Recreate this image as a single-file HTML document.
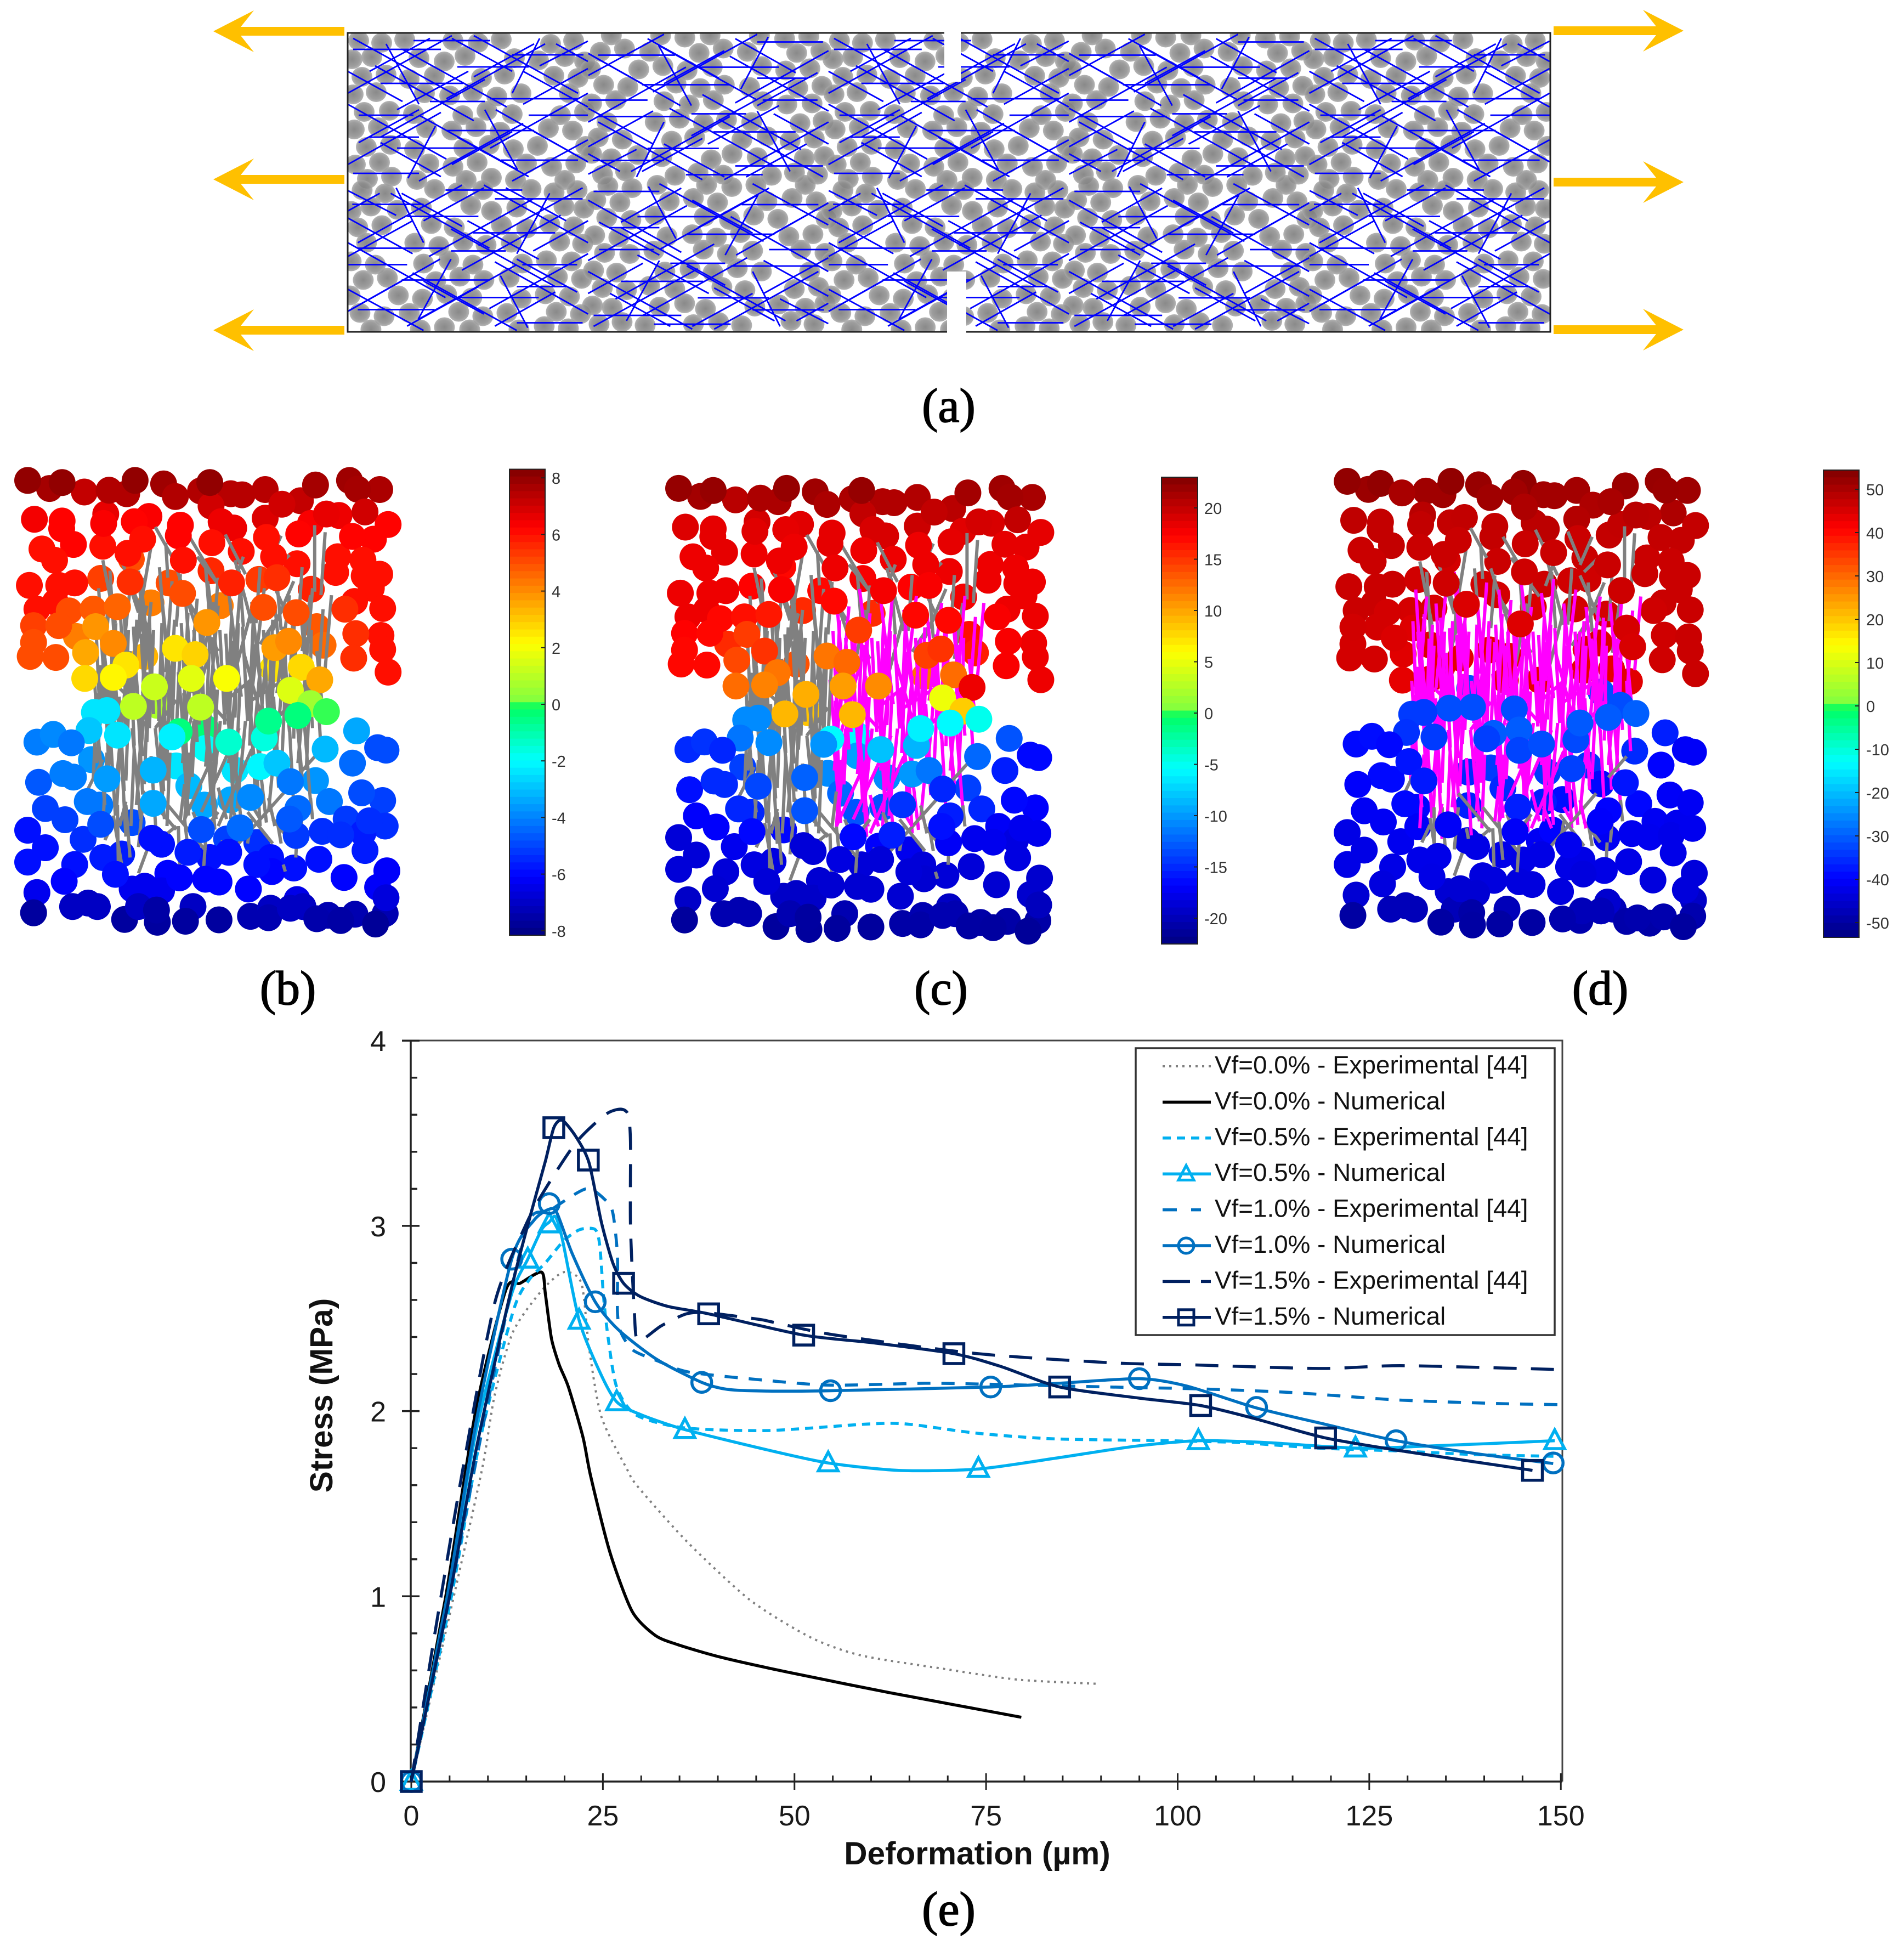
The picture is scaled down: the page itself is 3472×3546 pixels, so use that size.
<!DOCTYPE html>
<html lang="en">
<head>
<meta charset="utf-8">
<title>Fibre reinforced concrete fracture simulation</title>
<style>
html,body{margin:0;padding:0;background:#fff}
svg{display:block}
text{font-family:"Liberation Sans",Arial,sans-serif}
.panel-label{font-family:"Liberation Serif",serif;font-size:88px;fill:#000;text-anchor:middle;stroke:#000;stroke-width:1.6px}
.tick{font-size:52px;fill:#1a1a1a}
.cb{font-size:29px;fill:#333}
.leg{font-size:45.8px;fill:#111}
.title{font-size:58.5px;font-weight:bold;fill:#111;text-anchor:middle}
</style>
</head>
<body>
<svg id="page" width="3472" height="3546" viewBox="0 0 3472 3546">
  <defs>
    <radialGradient id="ballGrad" cx="50%" cy="50%" r="55%">
      <stop offset="0%" stop-color="#757575"/>
      <stop offset="65%" stop-color="#8c8c8c"/>
      <stop offset="100%" stop-color="#b0b0b0"/>
    </radialGradient>
    <clipPath id="boxClip"><rect x="635" y="61" width="2192" height="543"/></clipPath>
  </defs>
  <g id="panelA"></g>
  <g id="panelB"></g>
  <g id="panelC"></g>
  <g id="panelD"></g>
  <g id="chart"></g>
  <text class="panel-label" x="1730" y="769">(a)</text>
  <text class="panel-label" x="525" y="1831">(b)</text>
  <text class="panel-label" x="1716" y="1831">(c)</text>
  <text class="panel-label" x="2918" y="1831">(d)</text>
  <text class="panel-label" x="1730" y="3510">(e)</text>
</svg>
<script>
/* ---------- chart data (deformation in um, stress in MPa) ---------- */
const xTicks=[0,25,50,75,100,125,150];
const yTicks=[0,1,2,3,4];
const exp00X=[0,5,9.2,10.9,13.3,17,19.9,22.2,23.2,24.8,28.1,29.6,36.1,44.2,52.2,58.8,69.7,79.2,89.8];
const exp00Y=[0,.9,1.68,2.09,2.43,2.65,2.75,2.69,2.34,1.97,1.69,1.59,1.29,.98,.776,.68,.607,.55,.527];
const num00X=[0,4.5,8.4,12.3,14.2,17,17.5,18.3,19.3,20.5,22.4,23.4,25.9,28.8,31.8,34.7,40.5,50,62.4,79.6];
const num00Y=[0,1,2,2.65,2.69,2.75,2.63,2.39,2.25,2.13,1.86,1.65,1.24,.92,.79,.74,.67,.583,.48,.347];
const exp05X=[0,5,9,13.3,15.4,17.5,19.9,22,24,24.6,25.1,25.7,26.8,29.3,35.5,46.5,59.5,64.7,73.9,84,98.5,108,118.4,128.7,139,150];
const exp05Y=[0,.95,1.85,2.54,2.71,2.8,2.92,2.98,2.98,2.89,2.61,2.39,2.13,1.98,1.91,1.895,1.93,1.93,1.88,1.85,1.84,1.83,1.80,1.785,1.765,1.755];
const num05X=[0,4.7,8.5,13,15.2,17,18,18.8,19.7,21.9,24.5,26.8,30,35.7,46.5,54.4,63.6,73.9,84.1,94.4,102.7,111.6,123.2,132,149.2];
const num05Y=[0,1,1.9,2.62,2.82,2.98,3.02,3.05,2.93,2.49,2.22,2.05,1.98,1.90,1.79,1.72,1.68,1.687,1.746,1.81,1.84,1.83,1.80,1.81,1.84];
const mark05X=[0,15.2,18,21.9,26.8,35.7,54.4,74,102.7,123.2,149.2];
const mark05Y=[0,2.82,3.01,2.49,2.05,1.90,1.72,1.69,1.84,1.80,1.84];
const exp10X=[0,5,10,15,18,22.8,25.3,26.3,26.9,26.9,27.3,28.9,32.2,36.3,46.5,54.7,67,75.3,91,102.7,115,128.7,142.4,150];
const exp10Y=[0,1,2.05,2.99,3.08,3.2,3.14,3.07,2.84,2.54,2.43,2.33,2.27,2.21,2.165,2.14,2.15,2.145,2.13,2.12,2.10,2.06,2.04,2.035];
const num10X=[0,4.7,8.5,13.1,16,18,19,21,24,27,32,37.9,41.3,46.5,54.7,75.6,84.5,95,101.2,110.3,119.1,128.5,139,149];
const num10Y=[0,1,1.95,2.82,3.03,3.09,3.07,2.85,2.59,2.44,2.28,2.155,2.117,2.108,2.11,2.13,2.15,2.175,2.135,2.017,1.93,1.84,1.77,1.717];
const mark10X=[0,13.1,18,24,37.9,54.7,75.6,95,110.3,128.5,149];
const mark10Y=[0,2.82,3.12,2.59,2.155,2.11,2.13,2.175,2.02,1.84,1.72];
const exp15X=[0,3,6.7,10.9,15,17.5,21.5,25.3,27.3,28.3,28.6,28.6,29.1,29.6,32.6,35.9,38.8,45.4,47.2,55.4,73.9,91.7,101.4,118.4,128,135.6,149.2];
const exp15Y=[0,.78,1.68,2.585,3.01,3.2,3.45,3.6,3.63,3.6,3.45,3,2.54,2.38,2.46,2.525,2.53,2.495,2.48,2.41,2.31,2.26,2.25,2.23,2.245,2.24,2.225];
const num15X=[0,5,8.5,13,15.5,17.5,18.6,19.7,21.5,23.2,24.8,26.3,27.7,29.8,33.5,38.8,51.2,60,70.8,77,84.6,95,103,110,119.3,130,146.3];
const num15Y=[0,1,1.8,2.65,3.05,3.35,3.53,3.57,3.48,3.34,3.02,2.8,2.69,2.62,2.565,2.525,2.41,2.37,2.31,2.24,2.13,2.07,2.03,1.96,1.855,1.78,1.68];
const mark15X=[0,18.6,23.1,27.7,38.8,51.2,70.8,84.6,103,119.3,146.3];
const mark15Y=[0,3.53,3.355,2.69,2.525,2.41,2.31,2.13,2.03,1.855,1.68];
const legendLabels=["Vf=0.0% - Experimental [44]","Vf=0.0% - Numerical","Vf=0.5% - Experimental [44]","Vf=0.5% - Numerical","Vf=1.0% - Experimental [44]","Vf=1.0% - Numerical","Vf=1.5% - Experimental [44]","Vf=1.5% - Numerical"];

/* ---------- specimen data: particle x, y, normalised stress value in panel (b) units ---------- */
const particles=[
66,72,8,118,95,7.7,148,78,8,201,105,7.2,260,100,7.5,302,110,7.5,322,72,8,390,82,7.8,418,118,7.5,478,102,7.5,500,78,8,550,110,7.4,577,113,7.4,632,98,7.4,672,140,7,716,130,7.2,752,85,7.7,833,72,7.8,852,97,7.7,905,98,7.6,870,162,7,
82,183,6.4,148,188,6.2,175,255,6.2,147,210,6.2,252,168,6.6,247,195,6.3,245,260,6,320,190,6.2,355,175,6.3,340,240,6,430,200,6.2,425,230,6.2,503,145,7,527,190,6.5,557,208,6.5,505,250,6,632,180,6.8,635,235,6,575,275,6,712,225,6.2,740,195,6.3,778,168,6.6,808,172,6.5,652,290,6,708,310,6,925,198,6.2,890,240,6.2,840,232,6.2,805,290,6,865,300,6,800,335,6,905,340,6,868,345,6,885,380,6,912,438,6,845,418,6,908,515,6,912,555,6,925,620,6,
100,268,6,130,300,6,70,372,6,140,372,6,178,365,6,240,352,5.2,305,280,6,313,297,5,437,300,6,503,330,5.6,552,365,5.7,403,365,5,310,362,5.5,617,355,5.3,660,350,5.5,742,383,5.7,
88,440,6,132,420,6,165,445,5,222,440,4.8,280,433,4.6,360,422,4.2,435,395,5,525,430,4.2,493,478,3.8,628,435,5,706,450,5,755,490,4.8,822,440,5.5,848,510,5.5,
80,487,5.2,140,487,5,228,490,3.8,182,518,4.2,80,535,5,72,575,5,133,578,5,204,564,3.5,270,538,4,345,575,3.3,418,552,2.5,465,570,2.8,300,600,2.5,655,550,3.7,688,532,4,770,543,4.5,843,580,5.5,
202,638,2.7,270,635,2.2,456,638,1.6,540,638,2,650,610,2.5,718,606,2.7,762,642,3.5,
368,662,1.2,692,672,1.5,318,718,1,375,715,.7,478,720,1,740,710,.5,778,733,-.1,710,744,-.5,427,790,-.5,490,780,-.4,
225,735,-2.5,255,730,-2.5,212,787,-3,280,800,-2.5,410,805,-2.3,490,838,-2,545,820,-1.5,630,808,-1.7,640,760,-.7,775,840,-3.2,850,788,-3.5,
88,820,-4.2,127,798,-4,170,822,-4.3,900,836,-5,920,843,-5,840,880,-4.5,218,870,-3.8,365,900,-3.3,420,888,-2.5,620,890,-2.2,560,900,-2.5,660,880,-3,
92,935,-4.8,150,910,-4.2,175,920,-4.2,255,925,-3.7,450,945,-3.2,692,933,-4.3,752,930,-3.8,
108,1010,-5.2,155,1042,-5.2,208,990,-4.3,238,1000,-4.3,365,995,-3.5,487,1000,-3.5,597,978,-4,550,985,-3.5,710,1010,-4.5,785,990,-4.3,862,965,-5,912,987,-5.2,
66,1072,-6,108,1122,-6,66,1163,-6,198,1098,-5.5,240,1055,-5,315,1050,-5,362,1095,-6,385,1112,-6,480,1070,-5,540,1097,-5.2,572,1065,-4.5,612,1107,-5.5,706,1087,-5.3,768,1075,-5.5,690,1040,-4.8,825,1040,-5.3,880,1045,-5.5,918,1060,-5.5,812,1085,-5.5,865,1080,-5.8,870,1130,-5.8,
178,1170,-6,245,1150,-5.8,290,1140,-5.8,448,1135,-5.8,500,1150,-6,545,1135,-6,645,1150,-6,612,1170,-6,700,1180,-6,760,1155,-6,
153,1218,-6.2,275,1198,-6,400,1195,-6.2,428,1208,-6.2,648,1190,-6.2,490,1212,-6.2,522,1220,-6.2,592,1240,-6.2,820,1207,-6.2,922,1188,-6.3,900,1235,-6.3,
88,1250,-6.5,315,1240,-6.5,345,1232,-6.5,385,1245,-6.5,920,1265,-6.8,708,1270,-6.6,
80,1308,-7.8,173,1290,-7.2,210,1280,-7.2,232,1290,-7.2,330,1290,-7.2,297,1327,-7.8,373,1300,-7.7,375,1335,-7.8,442,1332,-7.8,460,1290,-7.2,522,1328,-7.8,597,1318,-7.5,640,1322,-7.5,645,1295,-7.2,692,1295,-7.2,722,1290,-7.2,755,1325,-7.6,782,1315,-7.5,812,1330,-7.7,846,1312,-7.5,895,1340,-7.9,918,1310,-7.5];

/* fibres: x1,y1,x2,y2,stage (0 intact throughout, 1 yields in c and d, 2 yields in d only) */
const fibres=[
370,205,410,290,0,450,230,520,370,0,530,210,585,340,0,610,215,640,300,0,670,230,640,310,0,750,200,750,390,0,775,220,765,400,0,690,285,650,330,0,245,300,275,480,0,290,300,330,450,0,360,260,340,400,0,395,250,400,350,0,470,290,540,400,0,580,290,555,370,0,440,400,520,560,0,
300,330,360,520,0,420,320,470,500,0,560,300,600,480,0,640,340,690,470,0,700,360,650,500,0,350,430,320,560,0,510,420,480,600,0,600,440,560,620,0,680,430,620,540,0,740,400,720,560,0,
262,330,272,520,0,340,350,330,510,0,380,320,392,500,0,430,340,420,490,0,490,320,500,470,0,520,350,510,500,0,570,330,580,490,0,620,320,610,480,0,660,360,670,500,0,720,320,712,470,0,
235,380,250,650,2,262,400,245,640,2,285,420,300,700,2,310,380,285,660,2,335,350,360,640,2,360,420,340,680,2,385,400,410,690,2,410,360,395,620,2,440,380,460,680,1,470,410,450,700,1,495,360,525,650,1,520,430,500,700,1,545,390,575,690,1,575,350,555,640,1,600,420,625,710,1,630,380,600,680,1,655,430,680,720,1,690,400,660,680,1,715,420,735,700,1,745,380,725,660,1,770,440,755,700,1,790,400,775,610,1,
225,640,240,900,2,250,620,230,880,2,272,600,290,890,2,300,640,280,900,2,322,590,340,860,2,350,620,330,900,2,372,640,395,910,2,400,600,380,870,2,425,620,445,900,1,455,600,435,880,1,480,650,500,920,1,510,610,490,890,1,535,640,555,900,1,565,620,545,880,1,590,650,610,930,1,620,610,600,880,1,645,640,665,900,1,675,620,655,890,1,700,650,720,920,1,730,610,710,880,1,755,640,765,840,1,
240,500,255,760,2,268,520,262,780,2,318,490,330,760,2,345,510,338,770,2,392,480,405,750,2,418,520,410,790,2,462,500,475,770,1,488,470,470,740,1,538,510,550,780,1,568,480,560,750,1,612,520,630,800,1,640,500,620,770,1,668,520,690,790,1,702,470,690,740,1,728,520,745,780,1,
230,760,250,1000,2,262,780,275,1030,2,290,760,278,1010,2,315,780,335,1040,2,342,760,325,1000,2,370,780,392,1040,2,398,760,385,1010,2,432,780,450,1030,1,462,760,445,1010,1,495,780,515,1040,1,525,760,505,1000,1,552,780,575,1050,1,585,760,565,1010,1,610,790,635,1050,1,660,770,640,1020,1,690,780,700,1000,1,725,760,740,990,1,
228,470,238,740,2,246,500,258,770,2,256,450,240,720,2,276,480,268,760,2,296,460,310,730,2,306,500,298,780,2,326,470,316,740,2,336,510,350,790,2,356,470,366,740,2,366,500,356,780,2,386,480,378,760,2,396,520,412,790,2,416,470,404,750,2,
232,680,222,930,2,252,700,262,960,2,268,660,258,920,2,284,690,296,960,2,308,670,300,930,2,328,700,340,970,2,352,680,344,940,2,378,690,390,960,2,404,670,396,930,2,255,850,245,1060,2,290,870,300,1090,2,320,840,312,1060,2,360,860,372,1080,2,405,850,398,1060,2,
432,480,444,750,1,448,450,438,730,1,476,490,488,760,1,502,460,492,740,1,524,500,536,770,1,552,460,542,740,1,578,490,590,760,1,604,460,594,740,1,628,500,640,770,1,650,470,640,740,1,676,490,688,760,1,698,460,688,740,1,722,480,732,740,1,742,500,738,720,1,
438,680,448,940,1,468,660,458,920,1,490,700,502,960,1,518,670,508,930,1,542,690,554,950,1,572,660,562,920,1,596,700,608,960,1,626,670,616,930,1,652,690,664,950,1,680,660,670,920,1,708,700,718,950,1,738,680,730,900,1,450,850,440,1050,1,500,860,512,1070,1,560,840,550,1040,1,610,860,620,1060,1,
205,965,245,870,0,565,1115,680,960,0,710,915,755,855,0,270,1030,290,1170,0,280,1000,282,1170,0,330,1195,350,1130,0,425,1060,428,1170,0,490,1100,485,1185,0,530,1100,530,1165,0,675,1170,680,1190,0,707,1100,705,1150,0,
300,1000,310,1150,0,340,1000,330,1120,0,440,1040,450,1150,0,600,1040,590,1110,0,660,1040,670,1110,0,720,1030,715,1100,0,
340,960,420,1070,0,400,1000,490,1130,0,460,1020,480,1080,0,480,1080,520,1020,0,590,1020,650,1110,0,650,1040,690,1100,0,740,980,745,1040,0,250,1100,270,1050,0,360,1060,365,1090,0,400,1080,420,1060,0,600,1000,620,1040,1,550,1000,570,1060,2,520,950,540,1040,1,640,980,655,1060,2,300,990,285,1060,2,440,940,430,1040,2,
330,330,345,560,2,250,580,265,760,2,455,540,470,820,1,505,520,515,800,1,555,530,545,800,1,605,540,595,830,1,655,540,645,810,1,705,540,700,810,1,755,560,770,740,1,
360,560,350,820,2,385,540,395,810,2,430,530,420,800,2,280,540,270,810,2,310,560,320,830,2,240,600,235,820,2,500,560,440,820,1,580,560,640,820,1,530,800,440,1040,1,570,780,480,1020,1,600,840,520,1060,1,
480,680,540,760,1,540,700,600,640,1,600,700,680,640,1,420,700,370,780,2,330,720,280,660,2,700,700,640,780,1];

/* panel (a) particle and fibre tile */
const ballTile=[20,14,62,18,104,12,192,14,238,18,280,12,370,20,412,14,8,48,44,44,130,46,176,52,214,42,304,46,348,50,396,44,432,52,26,80,70,76,112,84,158,78,244,82,286,76,376,78,420,82,10,112,52,108,140,110,186,114,228,108,272,116,316,110,404,110,30,144,76,142,120,148,210,150,254,142,300,148,388,150,432,144,12,176,56,172,144,174,190,178,234,172,278,180,366,174,410,178,34,208,78,204,122,212,212,210,258,204,302,212,346,206,434,206,14,240,58,236,148,238,192,244,236,236,326,238,372,244,416,238,36,266,80,262,126,268,216,268,262,264,306,268,396,268];
const fibreTile=[10,30,170,30,200,62,330,62,60,92,210,92,260,120,420,120,20,150,120,150,180,178,340,178,300,40,430,40,90,210,240,210,280,232,420,232,10,256,130,256,120,14,260,14,330,150,438,150,150,125,250,125,40,190,130,190,
0,110,190,5,60,190,250,85,180,120,360,20,260,210,438,110,0,240,170,145,130,270,320,165,300,270,438,195,40,70,150,10,230,80,340,20,20,200,130,140,190,240,300,180,320,130,438,65,350,60,438,15,90,140,220,70,
10,10,200,115,100,30,290,135,230,5,420,110,320,70,438,135,0,130,180,230,130,150,310,250,270,140,438,235,50,60,230,160,190,10,300,70,0,70,100,125,200,190,330,262,340,180,438,235,60,200,170,262,380,20,438,52,
70,20,130,130,250,140,310,250,350,10,300,110,160,170,110,265];

/* colour bars */
const cbTicksB=[8,6,4,2,0,-2,-4,-6,-8];
const cbTicksC=[20,15,10,5,0,-5,-10,-15,-20];
const cbTicksD=[50,40,30,20,10,0,-10,-20,-30,-40,-50];
const jetStops=[-1,-.75,-.5,-.25,-.02,0,.25,.5,.75,1];
const jetR=[0,0,0,0,0,128,255,255,255,128];
const jetG=[0,0,128,255,255,255,255,128,0,0];
const jetB=[128,255,255,255,96,64,0,0,0,0];
/* response of each load stage relative to panel (b) values */
const stageIn=[-8,-6,-5,-4,-3,-2,-1,-.01,0,1,2,3,4,5,6,8];
const stageC=[-22,-19,-17,-15,-12,-10,-7,-5,7,9,11,13,15,17,18,22];
const stageD=[-52,-44,-42,-40,-36,-34,-32,-31,42,43,44,44,45,46,47,53];

const root=document.getElementById('page');
const NS=root.namespaceURI;
function mk(parent,tag,attrs,txt){
  const e=document.createElementNS(NS,tag);
  for(const k in attrs)e.setAttribute(k,attrs[k]);
  if(txt!==undefined)e.textContent=txt;
  parent.appendChild(e);
  return e;
}
function jet(n){
  n=Math.max(-1,Math.min(1,n));
  let i=0;
  while(i<jetStops.length-2&&n>jetStops[i+1])i++;
  const t=(n-jetStops[i])/(jetStops[i+1]-jetStops[i]);
  const c=a=>Math.round(a[i]+(a[i+1]-a[i])*t);
  return 'rgb('+c(jetR)+','+c(jetG)+','+c(jetB)+')';
}
function lookup(v,xs,ys){
  if(v<=xs[0])return ys[0];
  for(let i=1;i<xs.length;i++){
    if(v<=xs[i])return ys[i-1]+(ys[i]-ys[i-1])*(v-xs[i-1])/(xs[i]-xs[i-1]);
  }
  return ys[ys.length-1];
}

/* ---------- panel (a) ---------- */
(function(){
  const g=document.getElementById('panelA');
  const clip=mk(g,'g',{'clip-path':'url(#boxClip)'});
  
  
  const tw=438.4,th=272.5,x0=634,y0=60;
  for(let col=0;col<5;col++)for(let row=0;row<2;row++){
    const flipX=(col+row)%2===1, flipY=col%2===1;
    const fx=v=>x0+col*tw+(flipX?tw-v:v);
    const fy=v=>y0+row*th+(flipY?th-v:v);
    for(let i=0;i<ballTile.length;i+=2){
      const el=mk(clip,'ellipse',{cx:fx(ballTile[i]),cy:fy(ballTile[i+1]),rx:19,ry:18,fill:'url(#ballGrad)','fill-opacity':.85});
      
      
    }
  }
  for(let col=0;col<5;col++)for(let row=0;row<2;row++){
    const flipX=(col+row)%2===1, flipY=col%2===1;
    const fx=v=>x0+col*tw+(flipX?tw-v:v);
    const fy=v=>y0+row*th+(flipY?th-v:v);
    for(let i=0;i<fibreTile.length;i+=4){
      const el=mk(clip,'line',{x1:fx(fibreTile[i]),y1:fy(fibreTile[i+1]),x2:fx(fibreTile[i+2]),y2:fy(fibreTile[i+3]),stroke:'#0000ff','stroke-width':2.8});
      
      
    }
  }
  const box=mk(g,'rect',{x:634,y:60,width:2193,height:545,fill:'none',stroke:'#222','stroke-width':3});
  
  
  const n1=mk(g,'rect',{x:1722,y:50,width:30,height:99,fill:'#fff'});
  
  
  const n2=mk(g,'rect',{x:1727,y:495,width:35,height:120,fill:'#fff'});
  
  
  const arrowsLeft=[57,327,602], arrowsRight=[56,332,601];
  arrowsLeft.forEach(y=>{
    const a=mk(g,'polygon',{points:[[628,y-8],[439,y-8],[463,y-38],[389,y],[463,y+38],[439,y+8],[628,y+8]].join(' '),fill:'#FFC000'});
    
    
  });
  arrowsRight.forEach(y=>{
    const a=mk(g,'polygon',{points:[[2833,y-8],[3020,y-8],[2996,y-38],[3070,y],[2996,y+38],[3020,y+8],[2833,y+8]].join(' '),fill:'#FFC000'});
    
    
  });
})();

/* ---------- panels (b), (c), (d) ---------- */
function drawPanel(id,fx,fy,valueOf,maxAbs,stage,cbx,cby0,cby1,cbw,ticks,tickYs,labelX){
  const g=document.getElementById(id);
  const drawBall=(i)=>{
    const v=valueOf(particles[i+2],particles[i],particles[i+1]);
    const el=mk(g,'circle',{cx:fx(particles[i]),cy:fy(particles[i+1]),r:24.5,fill:jet(v/maxAbs)});
    
    
  };
  const onTop=i=>{
    const py=particles[i+1];
    if(stage<2)return i%6===0||(py>430&&py<880&&i%9!==0);
    return (i%9===0&&(py<560||py>680))||(py>=680&&py<=830);
  };
  for(let i=0;i<particles.length;i+=3)if(!onTop(i))drawBall(i);
  for(let i=0;i<fibres.length;i+=5){
    const yields=fibres[i+4]>0&&fibres[i+4]<=stage;
    const el=mk(g,'line',{x1:fx(fibres[i]),y1:fy(fibres[i+1]),x2:fx(fibres[i+2]),y2:fy(fibres[i+3]),stroke:yields?'#ff00ff':'#808080','stroke-width':6});
    
    
  }
  for(let i=0;i<particles.length;i+=3)if(onTop(i))drawBall(i);
  const steps=64,h=(cby1-cby0)/steps;
  for(let s=0;s<steps;s++){
    const n=1-(s+.5)/steps*2;
    const r=mk(g,'rect',{x:cbx,y:cby0+s*h,width:cbw,height:h+.6,fill:jet(n)});
    
    
  }
  const frame=mk(g,'rect',{x:cbx,y:cby0,width:cbw,height:cby1-cby0,fill:'none',stroke:'#222','stroke-width':2});
  
  
  ticks.forEach((t,i)=>{
    const y=tickYs(t);
    const tk=mk(g,'line',{x1:cbx+cbw-7,x2:cbx+cbw,y1:y,y2:y,stroke:'#222','stroke-width':2});
    
    
    const lb=mk(g,'text',{class:'cb',x:labelX,y:y+11},String(t));
    
    
  });
}
drawPanel('panelB',x=>x/1.307,y=>830+y/1.568,v=>v,8.3,0,929,855.5,1705,65,cbTicksB,t=>1284-t*51.6,1006);
drawPanel('panelC',x=>1216+(x-38)/917*705,y=>870+(y-40)/1332*848,(v,x,y)=>{
  if(x===692&&y===672)return 5;
  if(x===762&&y===642)return 18;
  return lookup(v,stageIn,stageC);
},23,1,2118,870,1721,66,cbTicksC,t=>1300-t*18.7,2196);
drawPanel('panelD',x=>2436+(x-38)/917*678,y=>857+(y-40)/1332*853,(v,x,y)=>{
  if(v>0&&y>=660)return -33;
  return lookup(v,stageIn,stageD);
},55,2,3325,857,1709,65,cbTicksD,t=>1287-t*7.9,3403);

/* ---------- panel (e) chart ---------- */
const xPx=v=>750+v*13.975;
const yPx=v=>3248-v*337.7;
function smooth(xs,ys){
  let d='M'+xPx(xs[0]).toFixed(1)+' '+yPx(ys[0]).toFixed(1);
  const f=1/8;
  for(let i=0;i<xs.length-1;i++){
    const p0x=xPx(xs[Math.max(i-1,0)]),p0y=yPx(ys[Math.max(i-1,0)]);
    const p1x=xPx(xs[i]),p1y=yPx(ys[i]);
    const p2x=xPx(xs[i+1]),p2y=yPx(ys[i+1]);
    const j=Math.min(i+2,xs.length-1);
    const p3x=xPx(xs[j]),p3y=yPx(ys[j]);
    d+=' C'+(p1x+(p2x-p0x)*f).toFixed(1)+' '+(p1y+(p2y-p0y)*f).toFixed(1)+' '+(p2x-(p3x-p1x)*f).toFixed(1)+' '+(p2y-(p3y-p1y)*f).toFixed(1)+' '+p2x.toFixed(1)+' '+p2y.toFixed(1);
  }
  return d;
}
function marker(g,kind,cx,cy,color,size,sw,name){
  let el;
  const r=size/2;
  if(kind==='square')el=mk(g,'rect',{x:cx-r,y:cy-r,width:size,height:size,fill:'none',stroke:color,'stroke-width':sw});
  else if(kind==='circle')el=mk(g,'circle',{cx:cx,cy:cy,r:r,fill:'none',stroke:color,'stroke-width':sw});
  else el=mk(g,'polygon',{points:[[cx,cy-r*1.1],[cx+r,cy+r*.8],[cx-r,cy+r*.8]].join(' '),fill:'none',stroke:color,'stroke-width':sw});
  
  
}
(function(){
  const g=document.getElementById('chart');
  const frame=mk(g,'path',{d:'M749 1897H2849V3248',fill:'none',stroke:'#444','stroke-width':3});
  
  
  const yAxis=mk(g,'line',{x1:749,x2:749,y1:1897,y2:3248,stroke:'#222','stroke-width':3.5});
  
  
  const xAxis=mk(g,'line',{x1:749,x2:2849,y1:3248,y2:3248,stroke:'#222','stroke-width':3.5});
  
  
  for(let i=0;i<=20;i++){
    const v=i/5,y=yPx(v),major=i%5===0;
    const t=mk(g,'line',{x1:major?733:749,x2:major?765:761,y1:y,y2:y,stroke:'#222','stroke-width':3.5});
    
    
  }
  for(let i=0;i<=30;i++){
    const v=i*5,x=xPx(v),major=i%5===0;
    const t=mk(g,'line',{x1:x,x2:x,y1:3237-(major?4:0),y2:major?3263:3248,stroke:'#222','stroke-width':3});
    
    
  }
  yTicks.forEach(v=>{
    const t=mk(g,'text',{class:'tick',x:704,y:yPx(v)+19,'text-anchor':'end'},String(v));
    
    
  });
  xTicks.forEach(v=>{
    const t=mk(g,'text',{class:'tick',x:xPx(v),y:3328,'text-anchor':'middle'},String(v));
    
    
  });
  const xt=mk(g,'text',{class:'title',x:1782,y:3399},'Deformation (µm)');
  
  
  const yt=mk(g,'text',{class:'title',transform:'translate(606 2544) rotate(-90)'},'Stress (MPa)');
  
  

  const series=[
    {x:exp00X,y:exp00Y,c:'#808080',w:4,dash:'4 8',name:'series-vf00-experimental'},
    {x:num00X,y:num00Y,c:'#000000',w:5.5,dash:'',name:'series-vf00-numerical'},
    {x:exp05X,y:exp05Y,c:'#00B0F0',w:5.5,dash:'15 11',name:'series-vf05-experimental'},
    {x:num05X,y:num05Y,c:'#00B0F0',w:5.5,dash:'',mx:mark05X,my:mark05Y,kind:'triangle',name:'series-vf05-numerical'},
    {x:exp10X,y:exp10Y,c:'#0070C0',w:5.5,dash:'24 20',name:'series-vf10-experimental'},
    {x:num10X,y:num10Y,c:'#0070C0',w:5.5,dash:'',mx:mark10X,my:mark10Y,kind:'circle',name:'series-vf10-numerical'},
    {x:exp15X,y:exp15Y,c:'#002060',w:5.5,dash:'42 26',name:'series-vf15-experimental'},
    {x:num15X,y:num15Y,c:'#002060',w:5.5,dash:'',mx:mark15X,my:mark15Y,kind:'square',name:'series-vf15-numerical'}
  ];
  series.forEach(s=>{
    const p=mk(g,'path',{d:smooth(s.x,s.y),fill:'none',stroke:s.c,'stroke-width':s.w,'stroke-linejoin':'round','stroke-dasharray':s.dash||'none'});
    
    
    if(s.mx)s.mx.forEach((mv,i)=>marker(g,s.kind,xPx(mv),yPx(s.my[i]),s.c,36,5.5,s.name+'-marker'));
  });

  const legend=mk(g,'g',{});
  
  
  const lb=mk(legend,'rect',{x:2071,y:1911,width:764,height:523,fill:'#fff',stroke:'#333','stroke-width':3.5});
  
  
  const handleW=[4,5.5,5.5,5.5,5.5,5.5,5.5,5.5];
  series.forEach((s,i)=>{
    const base=1957+i*65.4, hy=base-13;
    const entry=mk(legend,'g',{});
    
    
    const dash=i===4?'26 26':(i===6?'50 20':(s.dash||'none'));
    const ln=mk(entry,'line',{x1:2120,x2:i===4?2190:2208,y1:hy,y2:hy,stroke:s.c,'stroke-width':handleW[i],'stroke-dasharray':dash});
    
    
    if(s.kind)marker(entry,s.kind,2163,hy,s.c,28,5,'legend-marker');
    const tx=mk(entry,'text',{class:'leg',x:2215,y:base},legendLabels[i]);
    
    
  });
})();
</script>
</body>
</html>
